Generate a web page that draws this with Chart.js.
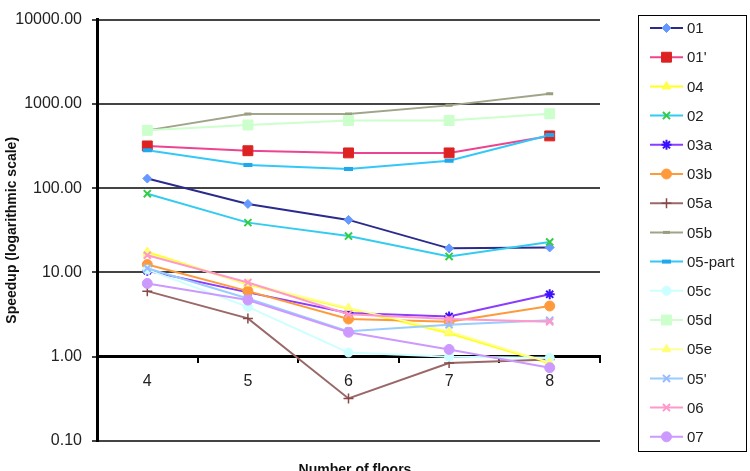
<!DOCTYPE html>
<html>
<head>
<meta charset="utf-8">
<script src="https://cdn.jsdelivr.net/npm/chart.js@4/dist/chart.umd.min.js"></script>
<style>
  html, body { margin: 0; padding: 0; background: #fff; }
  #wrap { position: relative; width: 750px; height: 471px; }
</style>
</head>
<body>
<div id="wrap"><canvas id="c" width="750" height="471"></canvas></div>
<script>
// ---- data ----
const floors = ['4', '5', '6', '7', '8'];
const yTicks = [0.1, 1, 10, 100, 1000, 10000];

const seriesNames = ['01', "01'", '04', '02', '03a', '03b', '05a', '05b', '05-part', '05c', '05d', '05e', "05'", '06', '07'];

const s01     = [130, 65, 42, 19.3, 19.8];
const s01p    = [317, 278, 262, 262, 417];
const s04     = [17.5, 7.2, 3.7, 1.9, 0.83];
const s02     = [86, 39, 27, 15.5, 23];
const s03a    = [10.5, 5.8, 3.3, 3.0, 5.5];
const s03b    = [12.4, 6.0, 2.8, 2.6, 4.0];
const s05a    = [6.0, 2.85, 0.32, 0.84, 0.93];
const s05b    = [485, 757, 757, 960, 1320];
const s05part = [282, 188, 169, 212, 428];
const s05c    = [10.8, 3.9, 1.12, 1.0, 0.97];
const s05d    = [485, 562, 635, 635, 764];
const s05e    = [16.5, 7.4, 3.8, 2.0, 0.85];
const s05q    = [11.2, 4.9, 2.0, 2.4, 2.7];
const s06     = [16.0, 7.6, 3.2, 2.8, 2.6];
const s07     = [7.4, 4.7, 1.95, 1.22, 0.74];

const seriesValues = [s01, s01p, s04, s02, s03a, s03b, s05a, s05b, s05part, s05c, s05d, s05e, s05q, s06, s07];

// ---- styles ----
const styles = [
  { line: '#2B2B8E', mk: '#6699FF', ps: 'rectRot', r: 4.5, bw: 1 },
  { line: '#EE4490', mk: '#DD2222', ps: 'rect', r: 7, bw: 1 },
  { line: '#FFFF22', mk: '#FFFF44', ps: 'triangle', r: 5, bw: 1 },
  { line: '#33CCF0', mk: '#33CC44', ps: 'crossRot', r: 5, bw: 2 },
  { line: '#8A3CFF', mk: '#3A10FF', ps: 'star', r: 5, bw: 2 },
  { line: '#FF9A3C', mk: '#FF9A3C', ps: 'circle', r: 5, bw: 1 },
  { line: '#9A6868', mk: '#884848', ps: 'cross', r: 5, bw: 1.5 },
  { line: '#A0A488', mk: '#9A9E80', ps: 'line', r: 3.5, bw: 3 },
  { line: '#33C8F8', mk: '#20A8EE', ps: 'line', r: 4.5, bw: 4 },
  { line: '#CCFFFF', mk: '#CCFFFF', ps: 'circle', r: 4.5, bw: 1 },
  { line: '#CCFFCC', mk: '#CCFFCC', ps: 'rect', r: 7, bw: 1 },
  { line: '#FFFF99', mk: '#FFFF77', ps: 'triangle', r: 5, bw: 1 },
  { line: '#99CCFF', mk: '#99BBFF', ps: 'crossRot', r: 5, bw: 2 },
  { line: '#FF99CC', mk: '#FF99CC', ps: 'crossRot', r: 5, bw: 2 },
  { line: '#CC99FF', mk: '#CC99FF', ps: 'circle', r: 5, bw: 1 }
];

const N = seriesNames.length;
const datasets = seriesNames.map((name, i) => ({
  label: name,
  data: seriesValues[i],
  borderColor: styles[i].line,
  borderWidth: 2,
  backgroundColor: styles[i].mk,
  pointStyle: styles[i].ps,
  pointRadius: styles[i].r,
  pointHoverRadius: styles[i].r,
  pointBackgroundColor: styles[i].mk,
  pointBorderColor: styles[i].mk,
  pointBorderWidth: styles[i].bw,
  tension: 0,
  fill: false,
  order: N - i
}));

const FONT = '"Liberation Sans", Arial, sans-serif';

function fallbackPoint(ctx, ps, r, x, y) {
  ctx.beginPath();
  ctx.arc(x, y, r, 0, Math.PI * 2);
  ctx.fill();
}

const legendPlugin = {
  id: 'customLegend',
  afterDraw(chart) {
    const ctx = chart.ctx;
    ctx.save();
    ctx.strokeStyle = '#000';
    ctx.lineWidth = 1;
    ctx.strokeRect(638.5, 15.5, 108, 436);
    const y0 = 28, dy = 29.2;
    chart.data.datasets.forEach((ds, i) => {
      const y = y0 + i * dy;
      ctx.strokeStyle = ds.borderColor;
      ctx.lineWidth = 2;
      ctx.beginPath();
      ctx.moveTo(650, y);
      ctx.lineTo(683, y);
      ctx.stroke();
      ctx.fillStyle = ds.pointBackgroundColor;
      ctx.strokeStyle = ds.pointBorderColor;
      ctx.lineWidth = ds.pointBorderWidth;
      if (Chart.helpers && Chart.helpers.drawPoint) {
        Chart.helpers.drawPoint(ctx, { pointStyle: ds.pointStyle, radius: ds.pointRadius, rotation: 0, borderWidth: ds.pointBorderWidth }, 666.5, y);
      } else {
        fallbackPoint(ctx, ds.pointStyle, ds.pointRadius, 666.5, y);
      }
      ctx.fillStyle = '#222';
      ctx.font = '15px ' + FONT;
      ctx.textAlign = 'left';
      ctx.textBaseline = 'middle';
      ctx.fillText(ds.label, 687, y + 1);
    });
    ctx.fillStyle = '#111';
    ctx.font = 'bold 14px ' + FONT;
    ctx.textAlign = 'center';
    ctx.textBaseline = 'middle';
    ctx.fillText('Number of floors', 355, 470);
    ctx.restore();
  }
};

new Chart(document.getElementById('c'), {
  type: 'line',
  data: { labels: floors, datasets },
  options: {
    responsive: false,
    animation: false,
    devicePixelRatio: 1,
    layout: { padding: { left: 0, right: 150, top: 16, bottom: 30 } },
    plugins: { legend: { display: false }, tooltip: { enabled: false } },
    scales: {
      x: {
        type: 'category',
        position: { y: 1 },
        offset: true,
        grid: {
          display: true,
          offset: true,
          drawOnChartArea: false,
          drawTicks: true,
          tickLength: 5,
          color: '#000',
          lineWidth: 2
        },
        border: { display: true, color: '#000', width: 3 },
        ticks: { color: '#222', font: { family: FONT, size: 16 }, padding: 10, maxRotation: 0 }
      },
      y: {
        type: 'logarithmic',
        min: 0.1,
        max: 10000,
        afterBuildTicks(scale) { scale.ticks = yTicks.map(v => ({ value: v })); },
        afterFit(scale) { scale.width = 97; },
        grid: { color: '#444', lineWidth: 2, tickLength: 5, drawTicks: true },
        border: { display: true, color: '#000', width: 3 },
        ticks: {
          color: '#222',
          font: { family: FONT, size: 16 },
          padding: 10,
          callback: (v) => Number(v).toFixed(2)
        },
        title: {
          display: true,
          text: 'Speedup (logarithmic scale)',
          color: '#111',
          font: { family: FONT, size: 14, weight: 'bold' },
          padding: { top: 4, bottom: 0 }
        }
      }
    }
  },
  plugins: [legendPlugin]
});
</script>
</body>
</html>
